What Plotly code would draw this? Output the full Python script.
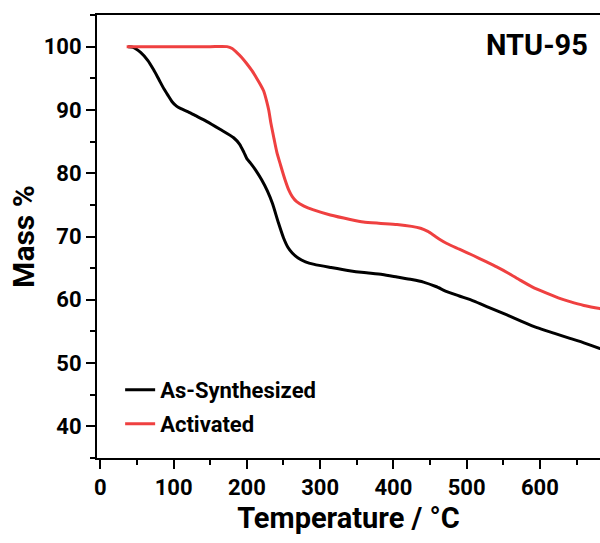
import plotly.graph_objects as go

# As-Synthesized
temp_as = [38, 45, 55, 65, 73, 80, 87, 93, 98, 104, 110, 120, 130, 145, 164, 182, 190, 196, 200, 205,
           212, 220, 228, 235, 243, 250, 256, 262, 270, 280, 292, 315, 340, 360, 385, 405, 425, 441,
           458, 473, 490, 510, 530, 555, 575, 596, 620, 641, 660, 682, 690]
mass_as = [100, 99.9, 99.1, 97.8, 96.3, 94.8, 93.3, 92.2, 91.3, 90.6, 90.2, 89.7, 89.1, 88.2, 86.9, 85.6,
           84.6, 83.3, 82.3, 81.6, 80.5, 79.0, 77.2, 75.2, 72.2, 69.8, 68.3, 67.4, 66.6, 66.0, 65.6, 65.1,
           64.6, 64.3, 64.0, 63.6, 63.2, 62.8, 62.1, 61.3, 60.6, 59.8, 58.8, 57.6, 56.6, 55.6, 54.7, 53.9,
           53.2, 52.3, 52.0]

# Activated
temp_act = [36, 100, 150, 173, 180, 186, 193, 200, 207, 214, 219, 223, 227, 230, 233, 237, 241, 246, 252,
            257, 262, 268, 278, 291, 314, 341, 359, 380, 405, 425, 437, 447, 455, 464, 473, 490, 509, 525,
            541, 557, 573, 590, 610, 625, 641, 660, 682, 690]
mass_act = [100, 100, 100, 100, 99.7, 99.1, 98.3, 97.3, 96.2, 94.9, 93.9, 93.0, 91.4, 89.9, 87.8, 85.5,
            83.3, 81.3, 79.0, 77.4, 76.3, 75.5, 74.8, 74.2, 73.4, 72.7, 72.3, 72.1, 71.9, 71.6, 71.3, 70.8,
            70.2, 69.5, 68.9, 68.0, 67.0, 66.1, 65.2, 64.2, 63.1, 62.0, 61.0, 60.3, 59.7, 59.1, 58.6, 58.4]

x_ticks = [0, 100, 200, 300, 400, 500, 600]
y_ticks = [40, 50, 60, 70, 80, 90, 100]

FONT = "Roboto"

fig = go.Figure()
fig.add_trace(go.Scatter(x=temp_as, y=mass_as, mode="lines", name="As-Synthesized",
                         line=dict(color="#000000", width=3, shape="spline", smoothing=0.6),
                         legend="legend", showlegend=True))
fig.add_trace(go.Scatter(x=temp_act, y=mass_act, mode="lines", name="Activated",
                         line=dict(color="#EF4040", width=3, shape="spline", smoothing=0.6),
                         legend="legend2", showlegend=True))

axis_common = dict(
    showline=True, linewidth=2, linecolor="black",
    ticks="outside", ticklen=9, tickwidth=2, tickcolor="black",
    showgrid=False, zeroline=False,
    tickfont=dict(family=FONT, size=22, color="black", weight="bold"),
)

fig.update_layout(
    width=600, height=543,
    margin=dict(l=97, r=0, t=15, b=85),
    paper_bgcolor="white", plot_bgcolor="white",
    showlegend=True,
    font=dict(family=FONT, color="black", weight="bold"),
    xaxis=dict(range=[-4.5, 682], tickvals=x_ticks, mirror=True,
               minor=dict(dtick=50, tick0=0, ticklen=5, tickwidth=2, tickcolor="black", ticks="outside"),
               title=dict(text="Temperature / °C", standoff=8,
                          font=dict(family=FONT, size=29, color="black", weight="bold")),
               **axis_common),
    yaxis=dict(range=[35, 105], tickvals=y_ticks, mirror=False,
               minor=dict(dtick=5, tick0=0, ticklen=5, tickwidth=2, tickcolor="black", ticks="outside"),
               title=dict(text="Mass %", standoff=0,
                          font=dict(family=FONT, size=30, color="black", weight="bold")),
               **axis_common),
    legend=dict(x=0.046, y=0.1535, xanchor="left", yanchor="middle", bgcolor="rgba(0,0,0,0)",
                font=dict(family=FONT, size=22, color="black", weight="bold")),
    legend2=dict(x=0.046, y=0.0767, xanchor="left", yanchor="middle", bgcolor="rgba(0,0,0,0)",
                 font=dict(family=FONT, size=22, color="black", weight="bold")),
    annotations=[dict(text="NTU-95", x=0.98, y=0.932, xref="paper", yref="paper",
                      xanchor="right", yanchor="middle", showarrow=False,
                      font=dict(family=FONT, size=29, color="black", weight="bold"))],
)

fig.write_html("out.html")
